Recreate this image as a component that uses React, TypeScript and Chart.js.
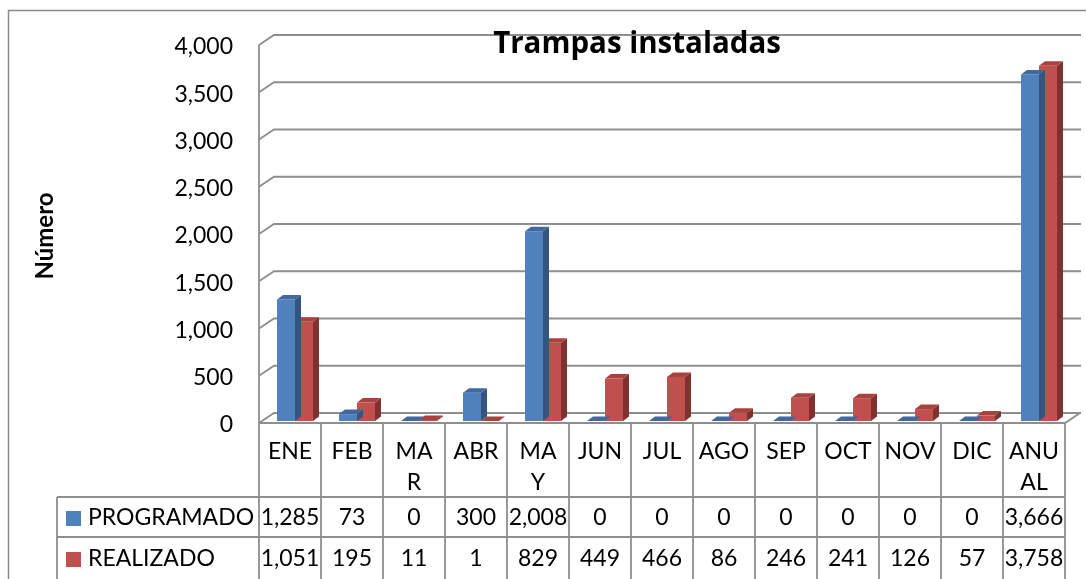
import React, { useEffect, useRef } from "react";
import { Chart, registerables } from "chart.js";

Chart.register(...registerables);

const categories: (string | string[])[] = ["ENE", "FEB", ["MA", "R"], "ABR", ["MA", "Y"], "JUN", "JUL", "AGO", "SEP", "OCT", "NOV", "DIC", ["ANU", "AL"]];
const programado = [1285, 73, 0, 300, 2008, 0, 0, 0, 0, 0, 0, 0, 3666];
const realizado = [1051, 195, 11, 1, 829, 449, 466, 86, 246, 241, 126, 57, 3758];
const seriesNames = ["PROGRAMADO", "REALIZADO"];
const yTicks = [0, 500, 1000, 1500, 2000, 2500, 3000, 3500, 4000];
const chartTitle = "Trampas instaladas";
const yTitle = "Número";

const FRONT = ["#4F81BD", "#C0504D"];
const TOP = ["#4169a0", "#a8423f"];
const SIDE = ["#33557f", "#80302e"];
const GRID = "#8e8e8e";
const FONT = "Lato, 'Liberation Sans', sans-serif";
const TITLE_FONT = "'Open Sans', Lato, sans-serif";

const DX = 15, DY = -10; // wall depth
const BDX = 6, BDY = -4.5; // bar depth
const SHIFT_X = 5, SHIFT_Y = -2;

const fmt = (v: number) => v.toLocaleString("en-US");

const deco = {
  id: "deco",
  beforeDatasetsDraw(chart: any) {
    const { ctx, chartArea } = chart;
    const y = chart.scales.y;
    const { left, right, bottom } = chartArea;
    ctx.save();
    ctx.strokeStyle = "#8a8a8a";
    ctx.lineWidth = 1.5;
    ctx.beginPath();
    ctx.moveTo(8.5, 600);
    ctx.lineTo(8.5, 10.5);
    ctx.lineTo(1100, 10.5);
    ctx.stroke();
    ctx.strokeStyle = GRID;
    ctx.lineWidth = 1.8;
    yTicks.forEach((v) => {
      const yf = y.getPixelForValue(v);
      ctx.beginPath();
      ctx.moveTo(left, yf);
      ctx.lineTo(left + DX, yf + DY);
      ctx.lineTo(right + DX + 1, yf + DY);
      ctx.stroke();
    });
    ctx.beginPath();
    ctx.moveTo(left, bottom);
    ctx.lineTo(right, bottom);
    ctx.lineTo(right + DX, bottom + DY);
    ctx.stroke();
    ctx.beginPath();
    ctx.moveTo(left, y.getPixelForValue(4000));
    ctx.lineTo(left, bottom);
    ctx.stroke();
    ctx.restore();
  },
  beforeDatasetDraw(chart: any) {
    chart.ctx.save();
    chart.ctx.translate(SHIFT_X, SHIFT_Y);
  },
  afterDatasetDraw(chart: any, args: any) {
    const { ctx } = chart;
    const i = args.index;
    const meta = chart.getDatasetMeta(i);
    meta.data.forEach((el: any) => {
      const { x, y, base, width } = el.getProps(["x", "y", "base", "width"], true);
      const l = x - width / 2, r = x + width / 2;
      ctx.fillStyle = SIDE[i];
      ctx.beginPath();
      ctx.moveTo(r, y);
      ctx.lineTo(r + BDX, y + BDY);
      ctx.lineTo(r + BDX, base + BDY);
      ctx.lineTo(r, base);
      ctx.closePath();
      ctx.fill();
      ctx.fillStyle = TOP[i];
      ctx.beginPath();
      ctx.moveTo(l, y);
      ctx.lineTo(r, y);
      ctx.lineTo(r + BDX, y + BDY);
      ctx.lineTo(l + BDX, y + BDY);
      ctx.closePath();
      ctx.fill();
    });
    ctx.restore();
  },
  afterDatasetsDraw(chart: any) {
    const { ctx, chartArea } = chart;
    const x = chart.scales.x;
    const y = chart.scales.y;
    const { left, right, bottom } = chartArea;
    const n = categories.length;
    const w = (right - left) / n;
    ctx.save();
    ctx.fillStyle = "#000";
    ctx.font = `23px ${FONT}`;
    ctx.textAlign = "right";
    ctx.textBaseline = "middle";
    yTicks.forEach((v) => {
      ctx.fillText(fmt(v), 233, y.getPixelForValue(v) + 2);
    });
    ctx.font = `bold 29.5px ${TITLE_FONT}`;
    ctx.textAlign = "center";
    ctx.textBaseline = "alphabetic";
    ctx.fillText(chartTitle, 637, 53);
    ctx.save();
    ctx.translate(45, 236);
    ctx.rotate(-Math.PI / 2);
    ctx.font = `bold 24px ${FONT}`;
    ctx.textBaseline = "middle";
    ctx.fillText(yTitle, 0, 0);
    ctx.restore();
    const rowTop1 = 497, rowTop2 = 537, tableBottom = 600, legendLeft = 57;
    ctx.strokeStyle = GRID;
    ctx.lineWidth = 1.8;
    for (let i = 0; i <= n; i++) {
      const xb = left + i * w;
      ctx.beginPath();
      ctx.moveTo(xb, bottom);
      ctx.lineTo(xb, tableBottom);
      ctx.stroke();
    }
    [rowTop1, rowTop2].forEach((yy) => {
      ctx.beginPath();
      ctx.moveTo(legendLeft, yy);
      ctx.lineTo(right, yy);
      ctx.stroke();
    });
    ctx.beginPath();
    ctx.moveTo(legendLeft, rowTop1);
    ctx.lineTo(legendLeft, tableBottom);
    ctx.stroke();
    ctx.font = `23px ${FONT}`;
    ctx.textAlign = "center";
    ctx.textBaseline = "middle";
    ctx.fillStyle = "#000";
    categories.forEach((c, i) => {
      const cx = x.getPixelForValue(i);
      const lines = Array.isArray(c) ? c : [c];
      lines.forEach((t, k) => ctx.fillText(t, cx, 452 + k * 31));
    });
    const rows = [programado, realizado];
    const rowY = [518, 559];
    rows.forEach((vals, r) => {
      vals.forEach((v, i) => {
        ctx.fillText(fmt(v), x.getPixelForValue(i), rowY[r]);
      });
      ctx.fillStyle = FRONT[r];
      ctx.fillRect(66, rowY[r] - 7, 15, 15);
      ctx.fillStyle = "#000";
      ctx.textAlign = "left";
      ctx.fillText(seriesNames[r], 88, rowY[r]);
      ctx.textAlign = "center";
    });
    ctx.restore();
  },
};

export default function App() {
  const ref = useRef<HTMLCanvasElement>(null);
  useEffect(() => {
    if (!ref.current) return;
    const chart = new Chart(ref.current, {
      type: "bar",
      data: {
        labels: categories as any,
        datasets: [
          { label: seriesNames[0], data: programado, backgroundColor: FRONT[0], borderWidth: 0, categoryPercentage: 0.58, barPercentage: 1.0, clip: false as any },
          { label: seriesNames[1], data: realizado, backgroundColor: FRONT[1], borderWidth: 0, categoryPercentage: 0.58, barPercentage: 1.0, clip: false as any },
        ],
      },
      options: {
        responsive: false,
        animation: false,
        devicePixelRatio: 1,
        layout: { padding: { left: 259, right: 21, top: 45, bottom: 156 } },
        scales: {
          x: { display: false },
          y: { display: false, min: 0, max: 4000, ticks: { stepSize: 500 } },
        },
        plugins: { legend: { display: false }, tooltip: { enabled: false }, title: { display: false } },
      },
      plugins: [deco],
    });
    return () => chart.destroy();
  }, []);
  return (
    <div style={{ position: "fixed", left: 0, top: 0, width: 1086, height: 579, background: "#fff", overflow: "hidden" }}>
      <canvas ref={ref} width={1086} height={579} style={{ display: "block" }} />
    </div>
  );
}
